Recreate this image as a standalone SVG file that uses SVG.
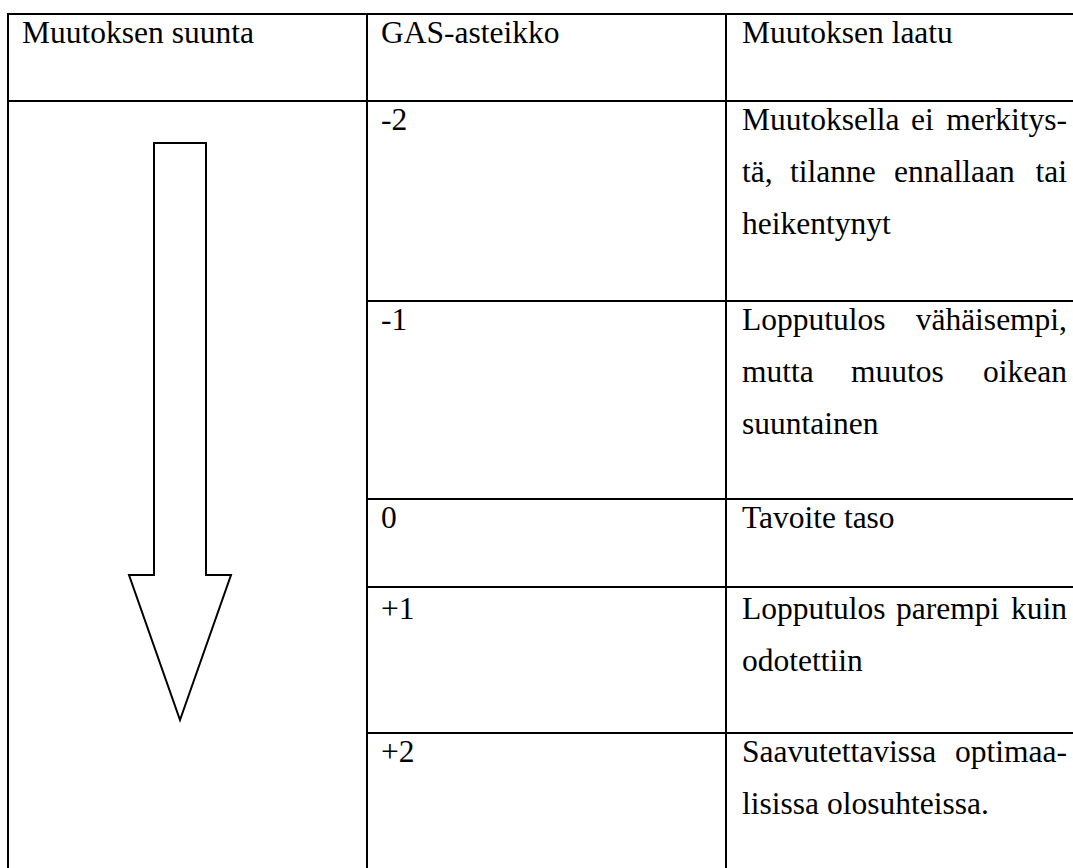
<svg xmlns="http://www.w3.org/2000/svg" width="1073" height="868" viewBox="0 0 1073 868">
<style>
text{font-family:'Liberation Serif','Times New Roman',Tinos,'Nimbus Roman','DejaVu Serif',serif;font-size:31.5px;fill:#000}
.e{text-anchor:end}
.ln{stroke:#000;stroke-width:2;fill:none}
</style>
<rect x="0" y="0" width="1073" height="868" fill="#fff"/>
<g id="grid">
<rect class="ln" x="8" y="14" width="1070" height="860"/>
<line class="ln" x1="367" y1="14" x2="367" y2="868"/>
<line class="ln" x1="726" y1="14" x2="726" y2="868"/>
<line class="ln" x1="8" y1="101" x2="1073" y2="101"/>
<line class="ln" x1="367" y1="301" x2="1073" y2="301"/>
<line class="ln" x1="367" y1="499" x2="1073" y2="499"/>
<line class="ln" x1="367" y1="587" x2="1073" y2="587"/>
<line class="ln" x1="367" y1="733" x2="1073" y2="733"/>
</g>
<g id="header" font-family="Liberation Serif, serif">
<text x="22" y="43">Muutoksen suunta</text>
<text x="381" y="43">GAS-asteikko</text>
<text x="742" y="43">Muutoksen laatu</text>
</g>
<g id="arrow">
<path class="ln" d="M154,143 L206,143 L206,575 L231,575 L180,720 L129,575 L154,575 Z"/>
</g>
<g id="row-m2">
<text x="381" y="130">-2</text>
<text x="742" y="130">Muutoksella</text>
<text x="911" y="130">ei</text>
<text class="e" x="1067" y="130">merkitys-</text>
<text x="742" y="182">tä,</text>
<text x="790" y="182">tilanne</text>
<text x="894" y="182">ennallaan</text>
<text class="e" x="1067" y="182">tai</text>
<text x="742" y="234">heikentynyt</text>
</g>
<g id="row-m1">
<text x="381" y="330">-1</text>
<text x="742" y="330">Lopputulos</text>
<text class="e" x="1067" y="330">vähäisempi,</text>
<text x="742" y="382">mutta</text>
<text x="851" y="382">muutos</text>
<text class="e" x="1067" y="382">oikean</text>
<text x="742" y="434">suuntainen</text>
</g>
<g id="row-0">
<text x="381" y="528">0</text>
<text x="742" y="528">Tavoite taso</text>
</g>
<g id="row-p1">
<text x="381" y="619">+1</text>
<text x="742" y="619">Lopputulos</text>
<text x="896" y="619">parempi</text>
<text class="e" x="1067" y="619">kuin</text>
<text x="742" y="671">odotettiin</text>
</g>
<g id="row-p2">
<text x="381" y="762">+2</text>
<text x="742" y="762">Saavutettavissa</text>
<text class="e" x="1067" y="762">optimaa-</text>
<text x="742" y="814">lisissa olosuhteissa.</text>
</g>
</svg>
